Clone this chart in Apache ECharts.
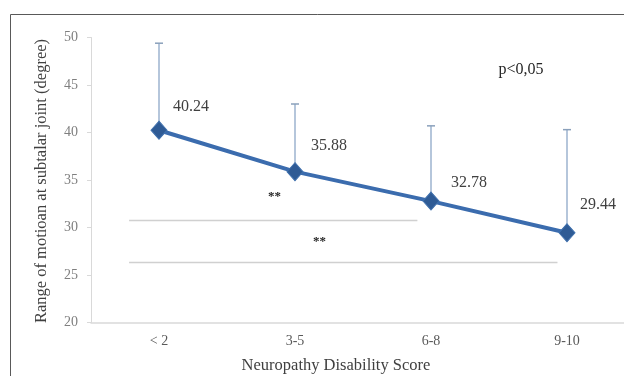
<!DOCTYPE html>
<html><head><meta charset="utf-8">
<script src="https://cdn.jsdelivr.net/npm/echarts@6/dist/echarts.min.js"></script>
<style>html,body{margin:0;padding:0;background:#fff}#c{width:624px;height:376px}</style>
</head><body><div id="c"></div>
<script>
const categories = ['< 2', '3-5', '6-8', '9-10'];
const means = [40.24, 35.88, 32.78, 29.44];
const upperErr = [49.4, 43.0, 40.7, 40.3];
const yTicks = [20, 25, 30, 35, 40, 45, 50];
const sigLines = [
  {y: 30.8, from: -0.22, to: 1.9, label: '**', labelX: 0.85, labelY: 33.2},
  {y: 26.4, from: -0.22, to: 2.93, label: '**', labelX: 1.18, labelY: 28.5}
];
const pText = 'p<0,05';
const labelOffsets = [[14, -23], [16, -26], [20, -18], [13, -28]];

const font = '"Liberation Serif", "DejaVu Serif", serif';
const chart = echarts.init(document.getElementById('c'));
const option = {
  animation: false,
  backgroundColor: '#fff',
  grid: {left: 91, top: 37.5, right: -11, bottom: 53.5, outerBoundsMode: 'none', containLabel: false},
  xAxis: {
    type: 'category', data: categories, boundaryGap: true,
    axisLine: {lineStyle: {color: '#d9d9d9', width: 1.5}},
    axisTick: {show: false},
    axisLabel: {color: '#595959', fontFamily: font, fontSize: 14, margin: 12}
  },
  yAxis: {
    type: 'value', min: yTicks[0], max: yTicks[yTicks.length - 1], interval: 5,
    axisLine: {show: true, lineStyle: {color: '#d9d9d9'}},
    axisTick: {show: true, length: 4, lineStyle: {color: '#d9d9d9'}},
    splitLine: {show: false},
    axisLabel: {color: '#7f7f7f', fontFamily: font, fontSize: 14, margin: 13}
  },
  series: [
    {
      type: 'custom',
      z: 1,
      renderItem: function (params, api) {
        const top = api.coord([api.value(0), api.value(2)]);
        const bot = api.coord([api.value(0), api.value(1)]);
        return {
          type: 'group',
          children: [
            {type: 'line', shape: {x1: top[0], y1: top[1], x2: bot[0], y2: bot[1]}, style: {stroke: '#9db3cf', lineWidth: 1.5}},
            {type: 'line', shape: {x1: top[0] - 4, y1: top[1], x2: top[0] + 4, y2: top[1]}, style: {stroke: '#8aa0bb', lineWidth: 1.5}}
          ]
        };
      },
      data: categories.map((c, i) => [i, means[i], upperErr[i]])
    },
    {
      type: 'line', z: 3,
      data: means.map((v, i) => ({value: v, label: {offset: labelOffsets[i]}})),
      symbol: 'diamond', symbolSize: [16, 18],
      itemStyle: {color: '#2f5b95', borderColor: '#3f70ad', borderWidth: 1},
      lineStyle: {color: '#3b6cae', width: 4},
      label: {
        show: true, position: 'inside', align: 'left', verticalAlign: 'middle',
        color: '#404040', fontFamily: font, fontSize: 16
      }
    }
  ],
  graphic: []
};
chart.setOption(option);

const g = [
  {type: 'rect', shape: {x: 10.5, y: 14.5, width: 640, height: 400}, style: {fill: 'none', stroke: '#595959', lineWidth: 1}, z: 0},
  {type: 'text', x: 42, y: 181, rotation: Math.PI / 2, style: {text: 'Range of motioan at subtalar joint (degree)', fill: '#404040', font: '16.5px ' + font, textAlign: 'center', textVerticalAlign: 'middle'}},
  {type: 'text', x: 336, y: 366, style: {text: 'Neuropathy Disability Score', fill: '#404040', font: '16.5px ' + font, textAlign: 'center', textVerticalAlign: 'middle'}},
  {type: 'text', x: 521, y: 70, style: {text: pText, fill: '#262626', font: '16px ' + font, textAlign: 'center', textVerticalAlign: 'middle'}}
];
sigLines.forEach(s => {
  const p1 = chart.convertToPixel({gridIndex: 0}, [0, s.y]);
  const p2 = chart.convertToPixel({gridIndex: 0}, [1, s.y]);
  const step = p2[0] - p1[0];
  const xa = p1[0] + s.from * step, xb = p1[0] + s.to * step;
  g.push({type: 'line', shape: {x1: xa, y1: Math.round(p1[1]) + 0.5, x2: xb, y2: Math.round(p1[1]) + 0.5}, style: {stroke: '#d0d0d0', lineWidth: 1.5}});
  const lp = chart.convertToPixel({gridIndex: 0}, [0, s.labelY]);
  g.push({type: 'text', x: p1[0] + s.labelX * step, y: lp[1], style: {text: s.label, fill: '#262626', font: 'bold 13px ' + font, textAlign: 'center', textVerticalAlign: 'middle'}});
});
chart.setOption({graphic: g});
</script></body></html>
